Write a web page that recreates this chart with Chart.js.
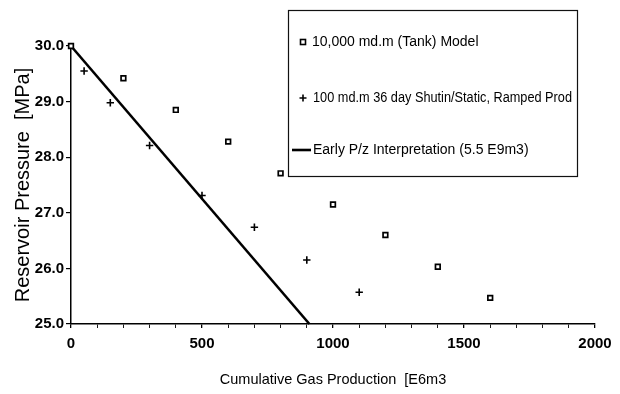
<!DOCTYPE html>
<html>
<head>
<meta charset="utf-8">
<script src="https://cdn.jsdelivr.net/npm/chart.js@4.4.1/dist/chart.umd.min.js"></script>
<style>
  html, body { margin: 0; padding: 0; background: #fff; }
  #wrap { width: 620px; height: 394px; position: relative; }
  canvas { display: block; }
</style>
</head>
<body>
<div id="wrap"><canvas id="c" width="620" height="394"></canvas></div>
<script>
// ---- data ----
const tankX = [0, 200, 400, 600, 800, 1000, 1200, 1400, 1600];
const tankP = [30.0, 29.42, 28.85, 28.28, 27.71, 27.15, 26.6, 26.03, 25.47];
const shutX = [50, 150, 300, 500, 700, 900, 1100];
const shutP = [29.55, 28.98, 28.21, 27.31, 26.74, 26.15, 25.57];
const lineX = [0, 910];
const lineP = [30.0, 25.0];
const seriesLabels = [
  '10,000 md.m (Tank) Model',
  '100 md.m 36 day Shutin/Static, Ramped Prod',
  'Early P/z Interpretation (5.5 E9m3)'
];
const xTitle = 'Cumulative Gas Production  [E6m3';
const yTitle = 'Reservoir Pressure  [MPa]';

const FONT = "'Liberation Sans', Arial, Helvetica, sans-serif";
const pts = (xs, ys) => xs.map((x, i) => ({ x: x, y: ys[i] }));

const legendPlugin = {
  id: 'boxLegend',
  afterDraw(chart) {
    const ctx = chart.ctx;
    const L = 288, T = 10, R = 577, B = 176;
    ctx.save();
    ctx.fillStyle = '#fff';
    ctx.fillRect(L, T, R - L, B - T);
    ctx.strokeStyle = '#111';
    ctx.lineWidth = 1.2;
    ctx.strokeRect(L + 0.5, T + 0.5, R - L, B - T);
    ctx.fillStyle = '#000';
    ctx.font = '14px ' + FONT;
    ctx.textBaseline = 'middle';
    ctx.textAlign = 'left';
    const rows = [42, 98, 150];
    chart.data.datasets.forEach((ds, i) => {
      const y = rows[i];
      ctx.strokeStyle = '#000';
      if (i === 0) {
        ctx.lineWidth = 1.6;
        ctx.fillStyle = '#fff';
        ctx.fillRect(300.5, y - 2.5, 5, 5);
        ctx.strokeRect(300.5, y - 2.5, 5, 5);
        ctx.fillStyle = '#000';
        ctx.fillText(ds.label, 312, y, R - 312 - 5);
      } else if (i === 1) {
        ctx.lineWidth = 1.6;
        ctx.beginPath();
        ctx.moveTo(303, y - 3.5); ctx.lineTo(303, y + 3.5);
        ctx.moveTo(299.5, y); ctx.lineTo(306.5, y);
        ctx.stroke();
        ctx.fillText(ds.label, 313, y, R - 313 - 5);
      } else {
        ctx.lineWidth = 2.6;
        ctx.beginPath();
        ctx.moveTo(292, y); ctx.lineTo(311, y);
        ctx.stroke();
        ctx.fillText(ds.label, 313, y, R - 313 - 5);
      }
    });
    ctx.restore();
  }
};

new Chart(document.getElementById('c'), {
  type: 'scatter',
  data: {
    datasets: [
      {
        label: seriesLabels[0],
        data: pts(tankX, tankP),
        showLine: false,
        pointStyle: 'rect',
        pointRadius: 3.3,
        borderColor: '#000',
        backgroundColor: '#fff',
        borderWidth: 1.7
      },
      {
        label: seriesLabels[1],
        data: pts(shutX, shutP),
        showLine: false,
        pointStyle: 'cross',
        pointRadius: 3.7,
        borderColor: '#000',
        backgroundColor: '#000',
        borderWidth: 1.6
      },
      {
        label: seriesLabels[2],
        data: pts(lineX, lineP),
        showLine: true,
        pointRadius: 0,
        borderColor: '#000',
        borderWidth: 2.6,
        fill: false
      }
    ]
  },
  options: {
    responsive: false,
    animation: false,
    devicePixelRatio: 1,
    clip: false,
    layout: { padding: { left: 0, top: 46, right: 25, bottom: 0 } },
    plugins: { legend: { display: false }, tooltip: { enabled: false } },
    scales: {
      x: {
        type: 'linear',
        min: 0, max: 2000,
        afterFit(s) { s.height = 70; },
        border: { display: true, color: '#000', width: 1.5 },
        grid: {
          display: true, drawOnChartArea: false, drawTicks: true,
          tickLength: 4, color: '#000',
          lineWidth: (c) => (c.tick && c.tick.value % 500 === 0 ? 1.3 : 0.9)
        },
        ticks: {
          stepSize: 100, autoSkip: false, maxRotation: 0, padding: 7,
          color: '#000', font: { family: FONT, size: 15, weight: 'bold' },
          callback: (v) => (v % 500 === 0 ? String(v) : '')
        },
        title: {
          display: true, text: xTitle, color: '#000',
          font: { family: FONT, size: 14.5 },
          padding: { top: 0, bottom: 5 }
        }
      },
      y: {
        type: 'linear',
        min: 25, max: 30,
        afterFit(s) { s.width = 71; },
        border: { display: true, color: '#000', width: 1.5 },
        grid: {
          display: true, drawOnChartArea: false, drawTicks: true,
          tickLength: 5, color: '#000', lineWidth: 1.2
        },
        ticks: {
          stepSize: 1, padding: 2, color: '#000',
          font: { family: FONT, size: 15, weight: 'bold' },
          callback: (v) => Number(v).toFixed(1)
        },
        title: {
          display: true, text: yTitle, color: '#000',
          font: { family: FONT, size: 20 },
          padding: { top: 11, bottom: 0 }
        }
      }
    }
  },
  plugins: [legendPlugin]
});
</script>
</body>
</html>
